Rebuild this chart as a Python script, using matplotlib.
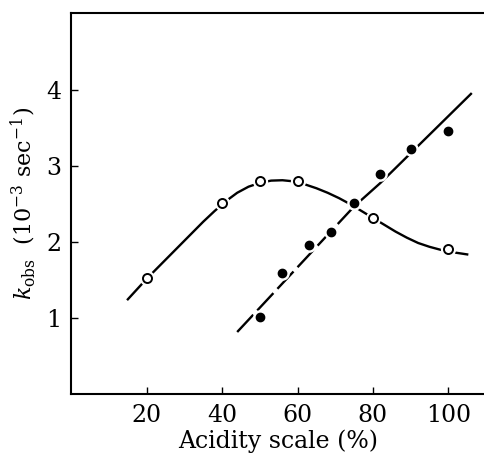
import matplotlib.pyplot as plt

plt.rcParams["font.family"] = ["DejaVu Serif"]
plt.rcParams["mathtext.fontset"] = "dejavuserif"

# measured points (acidity %, k_obs in 1e-3 /s)
open_x = [20, 40, 50, 60, 80, 100]
open_y = [1.53, 2.51, 2.80, 2.80, 2.32, 1.91]
filled_x = [50, 56, 63, 69, 75, 82, 90, 100]
filled_y = [1.02, 1.59, 1.96, 2.14, 2.51, 2.90, 3.22, 3.46]

# hand drawn curves
curve_x = [15, 20, 25, 30, 35, 38, 41, 44, 47, 50, 53, 56, 59, 62, 65, 68, 71, 74,
           77, 80, 83, 86, 89, 92, 95, 98, 101, 105]
curve_y = [1.25, 1.52, 1.77, 2.02, 2.27, 2.41, 2.54, 2.65, 2.73, 2.78, 2.81, 2.815,
           2.80, 2.76, 2.71, 2.65, 2.58, 2.50, 2.41, 2.32, 2.23, 2.14, 2.06, 1.99,
           1.94, 1.90, 1.87, 1.84]
dash_x = [44, 75]
dash_y = [0.82, 2.47]
line_x = [75, 82, 90, 106]
line_y = [2.47, 2.78, 3.17, 3.95]

x_ticks = [20, 40, 60, 80, 100]
y_ticks = [1, 2, 3, 4]

fig = plt.figure(figsize=(4.84, 4.57), dpi=100)
ax = fig.add_axes([0.1473, 0.137, 0.853, 0.834])

ax.plot(curve_x, curve_y, color="black", lw=1.7, zorder=1,
        solid_joinstyle="round")
ax.plot(dash_x, dash_y, color="black", lw=1.7, dashes=(10, 2.5), zorder=1)
ax.plot(line_x, line_y, color="black", lw=1.7, zorder=1)

# white halos give the small breaks in the lines around each point
ax.plot(open_x, open_y, "o", ms=10, color="white", zorder=2)
ax.plot(filled_x, filled_y, "o", ms=9.5, color="white", zorder=2)
ax.plot(open_x, open_y, "o", ms=6.5, mfc="white", mec="black", mew=1.4, zorder=3)
ax.plot(filled_x, filled_y, "o", ms=6, mfc="black", mec="black", zorder=3)

ax.set_xlim(0, 109.5)
ax.set_ylim(0, 5.01)
ax.set_xticks(x_ticks)
ax.set_yticks(y_ticks)
ax.tick_params(direction="in", length=5, width=1, labelsize=17, pad=7)
for s in ["left", "bottom", "top"]:
    ax.spines[s].set_linewidth(1.5)
ax.spines["right"].set_visible(False)

ax.set_xlabel("Acidity scale (%)", fontsize=17, labelpad=2)
ax.set_ylabel(r"$k_{\mathrm{obs}}$  (10$^{-3}$ sec$^{-1}$)", fontsize=16, labelpad=6)

fig.savefig("out.png", dpi=100)
